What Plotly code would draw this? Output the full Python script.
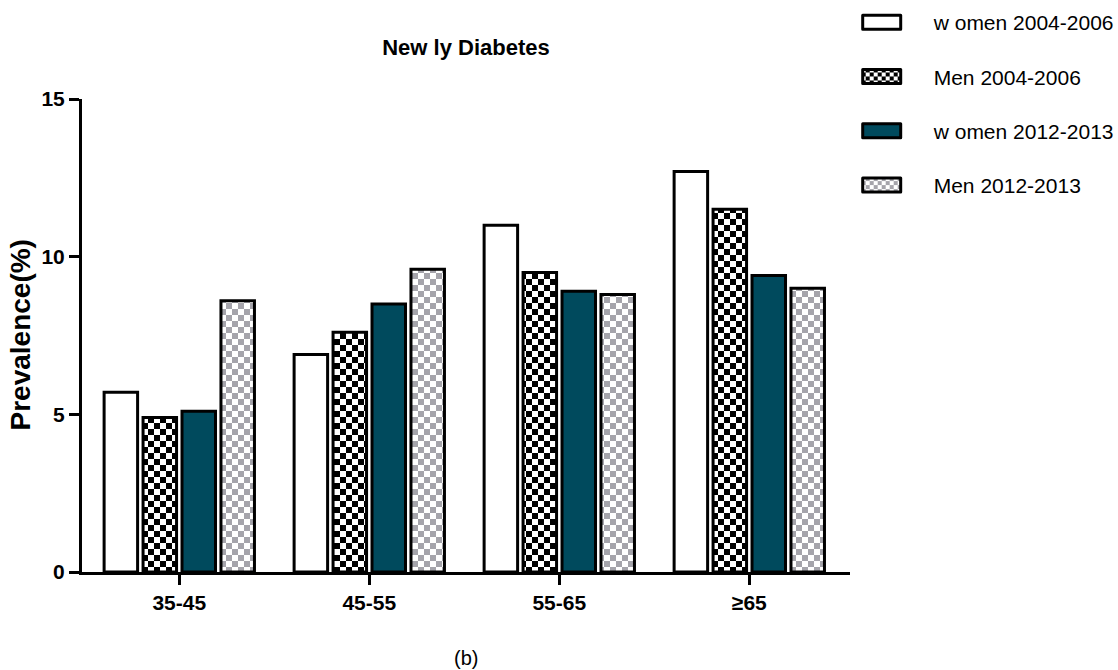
import plotly.graph_objects as go

# Age groups and prevalence (%) of newly diagnosed diabetes
age_groups = ["35-45", "45-55", "55-65", "≥65"]
women_2004_2006 = [5.7, 6.9, 11.0, 12.7]
men_2004_2006 = [4.9, 7.6, 9.5, 11.5]
women_2012_2013 = [5.1, 8.5, 8.9, 9.4]
men_2012_2013 = [8.6, 9.6, 8.8, 9.0]
series_names = ["w omen 2004-2006", "Men 2004-2006", "w omen 2012-2013", "Men 2012-2013"]
y_ticks = [0, 5, 10, 15]

FONT = "Liberation Sans, Arial, sans-serif"
TEAL = "#004a5d"
GRAY = "#a5a4ab"

x_pos = list(range(len(age_groups)))

styles = [
    dict(color="white"),
    dict(color="white", pattern=dict(shape=".", fgcolor="black", bgcolor="white",
                                     size=12, solidity=0.5)),
    dict(color=TEAL),
    dict(color="white", pattern=dict(shape=".", fgcolor=GRAY, bgcolor="white",
                                     size=12, solidity=0.5)),
]
values = [women_2004_2006, men_2004_2006, women_2012_2013, men_2012_2013]

fig = go.Figure()
for name, vals, st in zip(series_names, values, styles):
    fig.add_trace(go.Bar(
        x=x_pos, y=vals, name=name, legendgroup=name,
        marker=dict(line=dict(color="black", width=3), **st),
        hoverinfo="x+y",
    ))

fig.update_layout(
    width=1118, height=670,
    margin=dict(l=82, r=268, t=99, b=98, autoexpand=False),
    paper_bgcolor="white", plot_bgcolor="white",
    barmode="group", bargap=0.18, bargroupgap=0.14,
    font=dict(family=FONT, color="black"),
    title=dict(text="<b>New ly Diabetes</b>", x=0.5, xref="paper", xanchor="center",
               y=1 - 47 / 670, yanchor="middle",
               font=dict(size=22, family=FONT, color="black")),
    legend=dict(x=0.9944, y=1.205, xanchor="left", yanchor="top",
                font=dict(size=21, family=FONT, color="black"),
                itemwidth=78, tracegroupgap=24, bgcolor="rgba(0,0,0,0)"),
    showlegend=True,
)

fig.update_xaxes(
    range=[-0.512, 3.53], tickmode="array", tickvals=x_pos, ticktext=age_groups,
    showline=True, linecolor="black", linewidth=3,
    ticks="outside", ticklen=10, tickwidth=3, tickcolor="black",
    showgrid=False, zeroline=False,
    tickfont=dict(size=21, family=FONT, color="black", weight="bold"),
)
fig.update_yaxes(
    range=[0, 15], tickmode="array", tickvals=y_ticks,
    showline=True, linecolor="black", linewidth=3,
    ticks="outside", ticklen=10, tickwidth=3, tickcolor="black",
    showgrid=False, zeroline=False,
    tickfont=dict(size=21, family=FONT, color="black", weight="bold"),
)

fig.add_annotation(text="<b>Prevalence(%)</b>", textangle=-90,
                   x=(20 - 82) / 768, y=0.5, xref="paper", yref="paper",
                   xanchor="center", yanchor="middle", showarrow=False,
                   font=dict(size=28, family=FONT, color="black"))
fig.add_annotation(text="(b)", x=0.5, y=(572 - 658) / 473, xref="paper", yref="paper",
                   xanchor="center", yanchor="middle", showarrow=False,
                   font=dict(size=20, family=FONT, color="black"))

# Turn the dot patterns into checkerboards and widen the legend swatches
post_js = """
var gd = document.getElementById('{plot_id}');
var NS = 'http://www.w3.org/2000/svg';
try {
  gd.querySelectorAll('defs pattern').forEach(function(p) {
    var dot = p.querySelector('circle');
    if (!dot) return;
    var s = parseFloat(p.getAttribute('width'));
    var fg = dot.style.fill || dot.getAttribute('fill') || getComputedStyle(dot).fill;
    p.removeChild(dot);
    [[0, 0], [s / 2, s / 2]].forEach(function(o) {
      var r = document.createElementNS(NS, 'rect');
      r.setAttribute('x', o[0]); r.setAttribute('y', o[1]);
      r.setAttribute('width', s / 2); r.setAttribute('height', s / 2);
      r.setAttribute('fill', fg);
      p.appendChild(r);
    });
  });
  gd.querySelectorAll('.legend .legendpoints path').forEach(function(el) {
    el.setAttribute('d', 'M11,7H-27V-7H11Z');
    el.style.strokeLinejoin = 'round';
  });
} catch (e) {}
"""

fig.write_html("out.html", post_script=post_js)
